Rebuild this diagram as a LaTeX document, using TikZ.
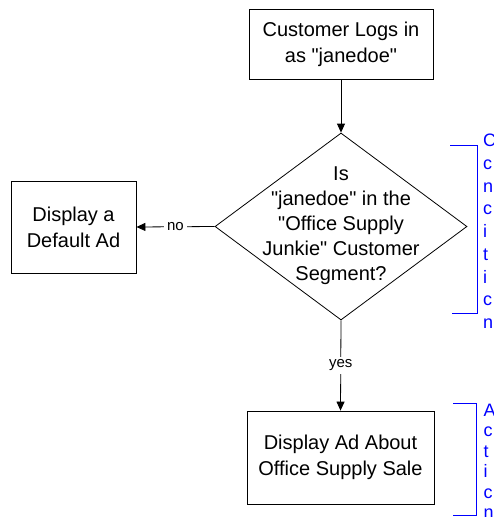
\documentclass[tikz,border=0pt]{standalone}
\usepackage{fontspec}
\setmainfont{Liberation Sans}[Ligatures=TeXOff]
\usetikzlibrary{arrows.meta,shapes.geometric}
\definecolor{annblue}{RGB}{0,0,255}
\begin{document}
\begin{tikzpicture}[x=1pt,y=-1pt,
  box/.style={draw, line width=0.8pt, inner sep=0pt, align=center,
    font=\fontsize{20}{26}\selectfont},
  dtext/.style={inner sep=0pt, align=center, font=\fontsize{20}{25}\selectfont},
  conn/.style={line width=0.8pt, -{Triangle[length=9pt,width=8pt]}},
  lbl/.style={fill=white, inner sep=3pt, font=\fontsize{15}{18}\selectfont},
  brk/.style={draw=annblue, line width=0.8pt},
  btxt/.style={text=annblue, inner sep=0pt, anchor=base west, font=\fontsize{18}{22}\selectfont}]
\useasboundingbox (0,0) rectangle (494,517);

\node[box, minimum width=184pt, minimum height=70pt] (top) at (341,44)
  {Customer Logs in\\as "janedoe"};
\node[draw, diamond, line width=0.8pt, minimum width=252pt, minimum height=187pt, inner sep=0pt] (q) at (341,226.5) {};
\node[dtext] (qt) at (341,226)
  {Is\\"janedoe" in the\\"Office Supply\\Junkie" Customer\\Segment?};
\node[box, minimum width=125pt, minimum height=92pt] (lb) at (73.5,227)
  {Display a\\Default Ad};
\node[box, minimum width=187pt, minimum height=93pt] (bb) at (340.5,457.5)
  {Display Ad About\\Office Supply Sale};

\draw[conn] (top.south) -- (q.north);
\draw[conn] (q.west) -- node[lbl] {no} (lb.east);
\draw[conn] (q.south) -- node[lbl] {yes} (bb.north);

% annotation brackets
\path[brk] (450,145) -- (477,145) -- (477,313) -- (452,313);
\path[brk] (453,403) -- (476,403) -- (476,515) -- (453,515);

\foreach \l [count=\i from 0] in {C,c,n,c,i,t,i,c,n}
  \node[btxt] (ba\i) at (483,146.5+22.75*\i) {\l};
\foreach \l [count=\i from 0] in {A,c,t,i,c,n}
  \node[btxt] (bb\i) at (483.5,416.5+20.4*\i) {\l};
\end{tikzpicture}
\end{document}
